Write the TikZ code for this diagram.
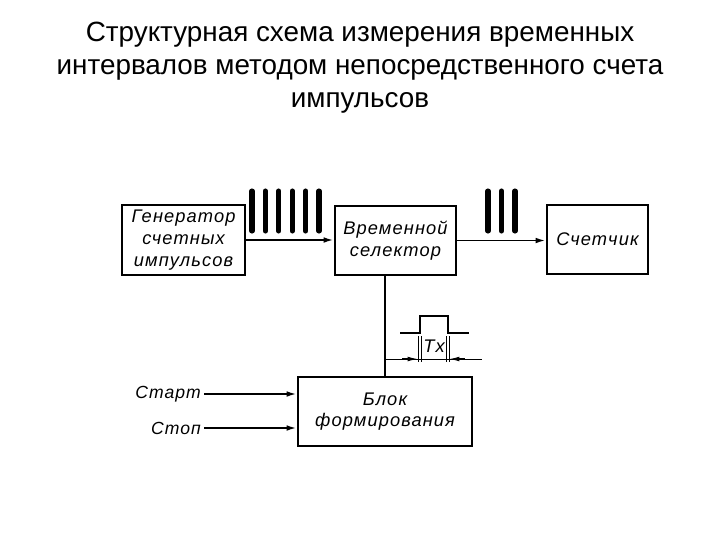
\documentclass[tikz,border=0pt]{standalone}
\usepackage{fontspec}
\setmainfont{Liberation Sans}
\newfontfamily\gostfont[LetterSpace=6]{Liberation Sans}
\usepackage{tikz}
\usetikzlibrary{arrows.meta}

\tikzset{
  blok/.style  = {draw, line width=1.3pt, align=center, font=\gostfont\itshape\fontsize{13}{15.5}\selectfont},
  sig/.style   = {line width=1.4pt, -{Latex[length=2.6mm,width=1.4mm]}},
  lbl/.style   = {font=\gostfont\itshape\fontsize{12.5}{15}\selectfont, inner sep=2pt},
  impuls/.style= {line width=3.6pt, line cap=round},
  razmer/.style= {line width=0.9pt, -{Latex[length=2.6mm,width=1.2mm]}},
}

\begin{document}
\begin{tikzpicture}[x=0.025cm, y=-0.025cm]

       \useasboundingbox (0,0) rectangle (720,540);

       % title
       \node [align=center, font=\fontsize{19.8}{23.5}\selectfont] (title) at (360,68)
             {Структурная схема измерения временных\\интервалов методом непосредственного счета\\импульсов};

       % blocks
       \node [blok, minimum width=3.075cm, minimum height=1.75cm]  (gen) at (183.5,240)   {Генератор\\счетных\\импульсов};
       \node [blok, minimum width=3.025cm, minimum height=1.725cm] (sel) at (395.5,240.5) {Временной\\селектор};
       \node [blok, minimum width=2.525cm, minimum height=1.725cm] (cnt) at (597.5,239.5) {Счетчик};
       \node [blok, minimum width=4.35cm,  minimum height=1.725cm] (blk) at (385,411.5)   {Блок\\формирования};

       \draw [sig]  (gen.east) -- (gen.east -| sel.west);
       \draw [sig]  (sel.east) -- (sel.east -| cnt.west);
       \draw [line width=1.3pt] (blk.north |- sel.south) -- (blk.north);

       % pulses
       \foreach \x in {252,265.4,278.8,292.2,305.6,319}
         \draw [impuls] (\x,191) -- (\x,231);
       \foreach \x in {488,501.5,515}
         \draw [impuls] (\x,191) -- (\x,231);

       % inputs
       \node [lbl, anchor=east] (start) at (204,394) {Старт};
       \node [lbl, anchor=east] (stop)  at (204,428) {Стоп};
       \draw [sig]  (start.east) -- (start.east -| blk.west);
       \draw [sig]  (stop.east)  -- (stop.east -| blk.west);

       % gate pulse Tx
       \draw [line width=1.3pt] (400,333) -- (420,333) -- (420,316) -- (448,316) -- (448,333) -- (469,333);
       \draw [thin] (418,336) -- (418,362)  (421,336) -- (421,362);
       \draw [thin] (446,336) -- (446,362)  (449,336) -- (449,362);
       \draw [thin] (385,359) -- (482,359);
       \draw [razmer] (402,359) -- (418,359);
       \draw [razmer] (465,359) -- (449,359);
       \node [lbl, font=\gostfont\itshape\fontsize{13}{15}\selectfont] (tx) at (434,346) {Tx};

\end{tikzpicture}
\end{document}
